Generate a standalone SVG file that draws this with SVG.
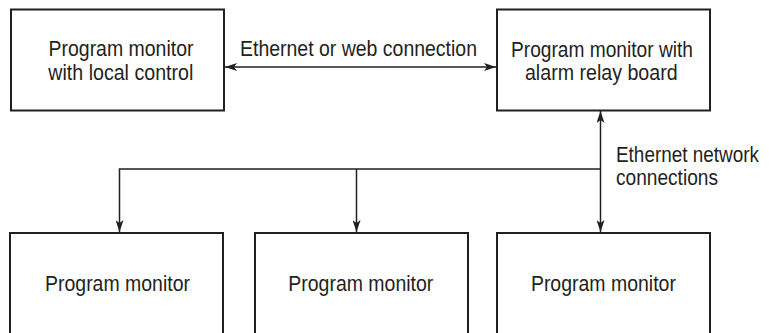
<svg xmlns="http://www.w3.org/2000/svg" width="769" height="333" viewBox="0 0 769 333">
<style>
.box{fill:#fff;stroke:#231f20;stroke-width:2}
.t{font-family:"Liberation Sans Narrow","Liberation Sans",Arial,sans-serif;font-size:22px;fill:#231f20;text-anchor:middle}
.l{font-family:"Liberation Sans Narrow","Liberation Sans",Arial,sans-serif;font-size:22px;fill:#231f20}
.c{fill:none;stroke:#231f20;stroke-width:1.5}
</style>
<defs>
<marker id="ah" viewBox="0 0 12 8" refX="12" refY="4" markerWidth="12" markerHeight="8" markerUnits="userSpaceOnUse" orient="auto-start-reverse">
<path d="M0,0 L12,4 L0,8 L3,4 Z" fill="#231f20"/>
</marker>
</defs>
<rect width="769" height="333" fill="#fff"/>
<g id="connectors">
<line class="c" x1="225" y1="67" x2="496" y2="67" marker-start="url(#ah)" marker-end="url(#ah)"/>
<line class="c" x1="600.5" y1="111" x2="600.5" y2="232" marker-start="url(#ah)" marker-end="url(#ah)"/>
<polyline class="c" points="600.5,169 119.5,169 119.5,232" marker-end="url(#ah)"/>
<line class="c" x1="356.5" y1="169" x2="356.5" y2="232" marker-end="url(#ah)"/>
<text class="l" x="240" y="55.5" textLength="237" lengthAdjust="spacingAndGlyphs">Ethernet or web connection</text>
<text class="l" x="616" y="161.5" textLength="143" lengthAdjust="spacingAndGlyphs">Ethernet network</text>
<text class="l" x="616" y="185" textLength="102" lengthAdjust="spacingAndGlyphs">connections</text>
</g>
<g id="n1">
<rect class="box" x="11" y="9.5" width="213" height="101"/>
<text class="t" x="121" y="56" textLength="145" lengthAdjust="spacingAndGlyphs">Program monitor</text>
<text class="t" x="120.8" y="80" textLength="145" lengthAdjust="spacingAndGlyphs">with local control</text>
</g>
<g id="n2">
<rect class="box" x="497" y="9.5" width="213" height="101"/>
<text class="t" x="602" y="56.5" textLength="182" lengthAdjust="spacingAndGlyphs">Program monitor with</text>
<text class="t" x="601.3" y="79.5" textLength="152.7" lengthAdjust="spacingAndGlyphs">alarm relay board</text>
</g>
<g id="n3">
<rect class="box" x="10" y="233" width="213" height="110"/>
<text class="t" x="117.5" y="291" textLength="145" lengthAdjust="spacingAndGlyphs">Program monitor</text>
</g>
<g id="n4">
<rect class="box" x="255" y="233" width="213" height="110"/>
<text class="t" x="360.8" y="291" textLength="145" lengthAdjust="spacingAndGlyphs">Program monitor</text>
</g>
<g id="n5">
<rect class="box" x="497" y="233" width="213" height="110"/>
<text class="t" x="603.4" y="291" textLength="145" lengthAdjust="spacingAndGlyphs">Program monitor</text>
</g>
</svg>
